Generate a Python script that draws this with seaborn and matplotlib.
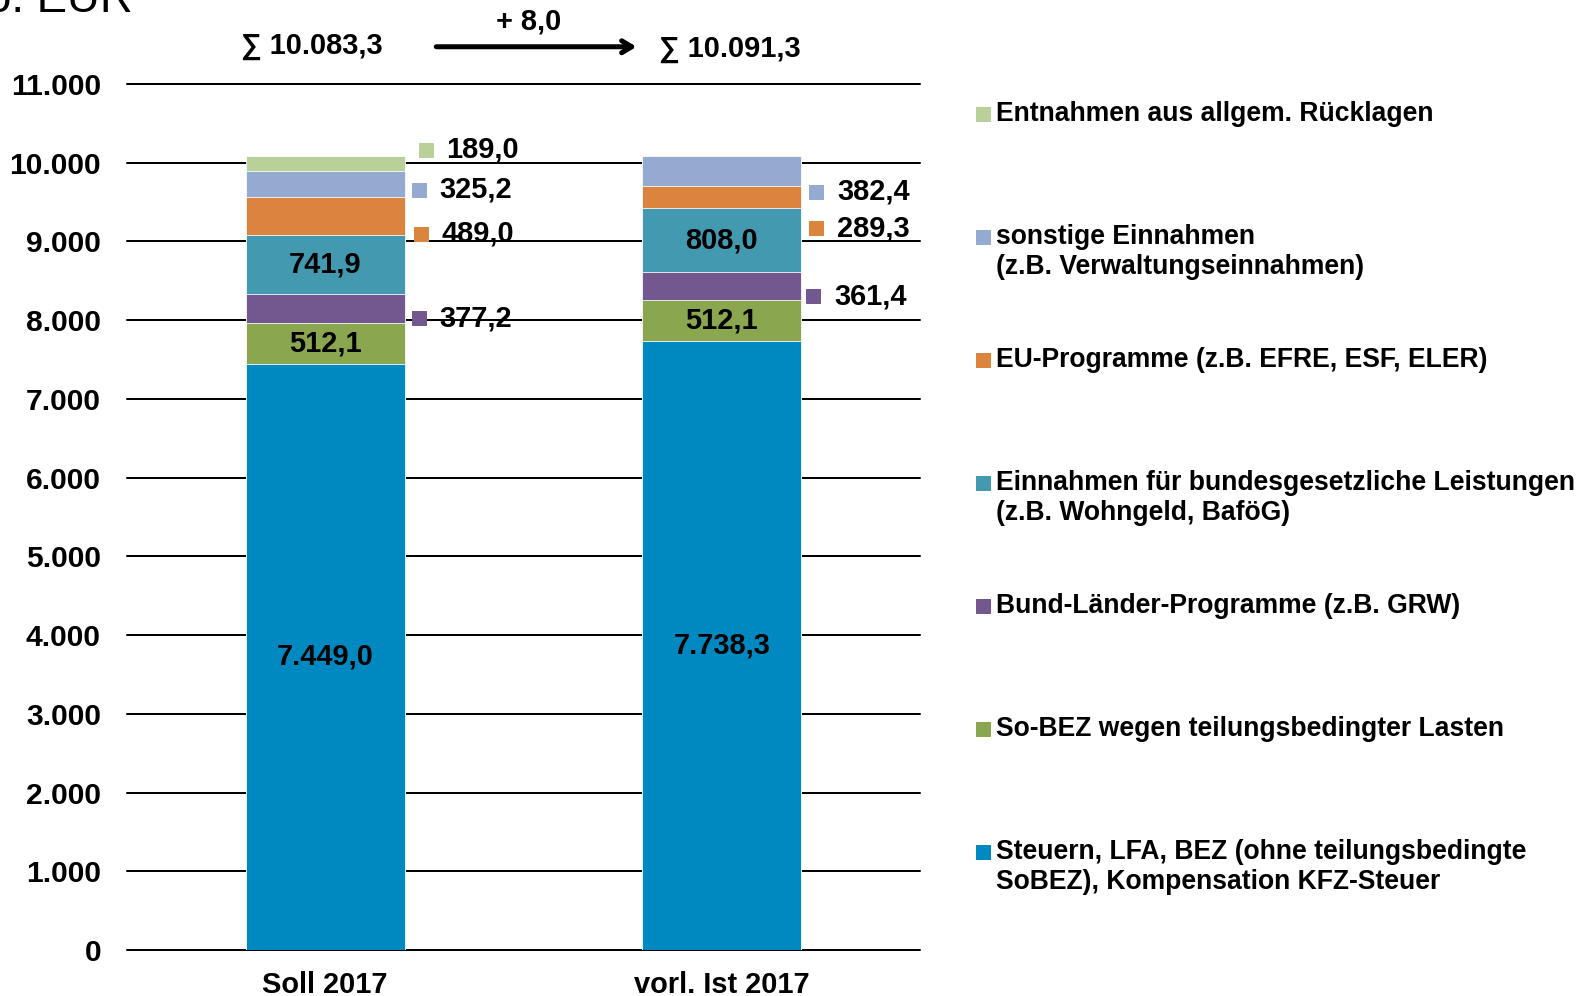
import matplotlib
matplotlib.use("Agg")
import matplotlib.pyplot as plt
import matplotlib.transforms as mtransforms
from matplotlib.patches import Rectangle
import numpy as np
import seaborn as sns

# Data (Mio. EUR)
categories = ["Soll 2017", "vorl. Ist 2017"]
steuern = [7449.0, 7738.3]
sobez = [512.1, 512.1]
bund_laender = [377.2, 361.4]
bundesgesetz = [741.9, 808.0]
eu_programme = [489.0, 289.3]
sonstige = [325.2, 382.4]
entnahmen = [189.0, 0.0]
totals = [10083.3, 10091.3]

segments = [steuern, sobez, bund_laender, bundesgesetz, eu_programme, sonstige, entnahmen]
legend_labels = [
    "Steuern, LFA, BEZ (ohne teilungsbedingte\nSoBEZ), Kompensation KFZ-Steuer",
    "So-BEZ wegen teilungsbedingter Lasten",
    "Bund-Länder-Programme (z.B. GRW)",
    "Einnahmen für bundesgesetzliche Leistungen\n(z.B. Wohngeld, BaföG)",
    "EU-Programme (z.B. EFRE, ESF, ELER)",
    "sonstige Einnahmen\n(z.B. Verwaltungseinnahmen)",
    "Entnahmen aus allgem. Rücklagen",
]
colors = ["#0089C1", "#8AA64F", "#73588F", "#4399B0", "#DB843D", "#94AAD0", "#B9D099"]

inside = [0, 1, 3]  # segments labelled inside the bar
# outside labels: nudge (px, down) and marker offset from bar edge, per bar
outside_style = [
    {6: (-14, 14), 5: (6, 7), 4: (18, 9), 2: (10, 7)},
    {5: (21, 8), 4: (31, 8), 2: (10, 5)},
]


def de(v):
    s = f"{v:,.1f}"
    return s.replace(",", "X").replace(".", ",").replace("X", ".")


W, H, DPI = 1591, 996, 72
sns.set_style("white")
plt.rcParams["font.family"] = ["Liberation Sans", "DejaVu Sans"]
plt.rcParams["font.weight"] = "bold"
plt.rcParams["text.color"] = "black"
plt.rcParams["xtick.color"] = "black"
plt.rcParams["ytick.color"] = "black"

fig = plt.figure(figsize=(W / DPI, H / DPI), dpi=DPI)
ax = fig.add_axes([127 / W, 1 - 950 / H, 793 / W, 866 / H])

vals = np.array(segments)
cum = vals.cumsum(axis=0)

# stacked bars: draw cumulative totals from the top segment down
for i in range(len(segments) - 1, -1, -1):
    sns.barplot(x=categories, y=cum[i], color=colors[i], width=0.4, saturation=1,
                errorbar=None, edgecolor="white", linewidth=0.8, ax=ax, zorder=2)

ax.set_ylim(0, 11000)
ax.set_xlim(-0.5, 1.5)
ax.set_yticks(np.arange(0, 11001, 1000))
ax.set_yticklabels([de(t)[:-2] for t in np.arange(0, 11001, 1000)])
ax.yaxis.grid(True, color="black", linewidth=2)
ax.set_axisbelow(True)
for gl in ax.get_ygridlines():
    gl.set_clip_on(False)
for sp in ax.spines.values():
    sp.set_visible(False)
ax.tick_params(axis="y", length=0, pad=26, labelsize=30)
ax.tick_params(axis="x", length=0, pad=21, labelsize=29)
for lab in ax.get_xticklabels() + ax.get_yticklabels():
    lab.set_fontweight("bold")
ax.set_xlabel("")
ax.set_ylabel("")

# value labels
for b in range(len(categories)):
    for i in inside:
        ax.text(b, cum[i][b] - vals[i][b] / 2, de(vals[i][b]), ha="center", va="center",
                fontsize=29, fontweight="bold", zorder=5)
    for i, (nudge, mdx) in outside_style[b].items():
        if vals[i][b] == 0:
            continue
        yc = cum[i][b] - vals[i][b] / 2
        xr = b + 0.2
        off = mtransforms.ScaledTranslation((mdx + 7) / DPI, -nudge / DPI, fig.dpi_scale_trans)
        ax.plot([xr], [yc], marker="s", ms=14, color=colors[i], transform=ax.transData + off,
                clip_on=False, zorder=5)
        ax.annotate(de(vals[i][b]), xy=(xr, yc), xytext=(mdx + 28, -nudge),
                    textcoords="offset points", ha="left", va="center",
                    fontsize=29, fontweight="bold", annotation_clip=False, zorder=6)

# totals and difference
tr = ax.get_xaxis_transform()
ax.text(-0.035, 1.044, "∑ " + de(totals[0]), transform=tr, ha="center", va="center",
        fontsize=29, fontweight="bold")
ax.text(1.02, 1.040, "∑ " + de(totals[1]), transform=tr, ha="center", va="center",
        fontsize=29, fontweight="bold")
diff = totals[1] - totals[0]
ax.text(0.514, 1.072, "+ " + de(diff), transform=tr, ha="center", va="center",
        fontsize=29, fontweight="bold")
ax.annotate("", xy=(0.785, 1.043), xytext=(0.28, 1.043), xycoords=tr, textcoords=tr,
            arrowprops=dict(arrowstyle="->,head_length=1.0,head_width=0.6", lw=5,
                            color="black", shrinkA=0, shrinkB=0))

# unit label (cut at the top edge)
fig.text(133 / W, 1 - 12 / H, "Mio. EUR", ha="right", va="baseline", fontsize=45.5,
         fontweight="normal")

# legend (top to bottom)
for k, i in enumerate(range(len(segments) - 1, -1, -1)):
    yc = 114 + k * 123
    fig.add_artist(Rectangle((976 / W, 1 - (yc + 7) / H), 14 / W, 14 / H,
                             transform=fig.transFigure, color=colors[i]))
    fig.text(996 / W, 1 - (yc - 13) / H, legend_labels[i], ha="left", va="top",
             fontsize=26.5, fontweight="bold", linespacing=1.22)

fig.savefig("out.png", dpi=DPI)
